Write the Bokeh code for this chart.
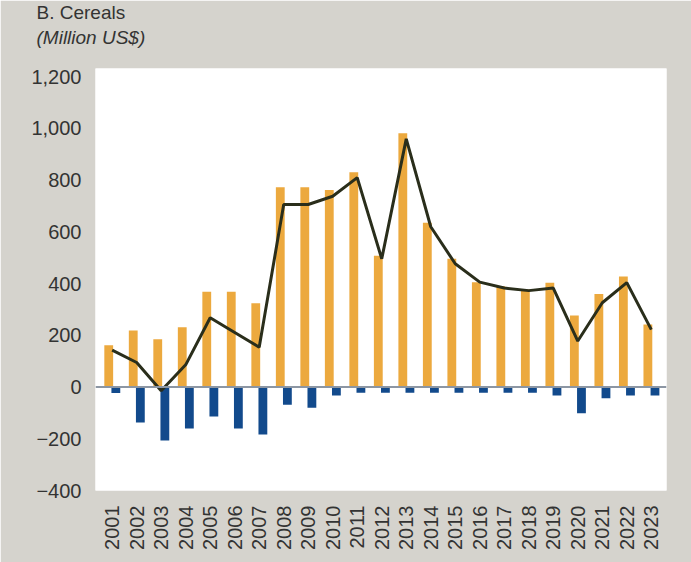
import math
from bokeh.plotting import figure
from bokeh.models import Title, Span, FixedTicker, CustomJSTickFormatter, Range1d
from bokeh.embed import file_html
from bokeh.resources import INLINE

years = ["2001", "2002", "2003", "2004", "2005", "2006", "2007", "2008", "2009", "2010", "2011", "2012",
         "2013", "2014", "2015", "2016", "2017", "2018", "2019", "2020", "2021", "2022", "2023"]
exports = [162, 219, 185, 231, 369, 369, 324, 773, 773, 762, 831, 508, 982, 635, 496, 405, 390, 377, 403, 277, 360, 428, 242]
imports = [-23, -137, -207, -160, -114, -160, -183, -68, -80, -33, -22, -22, -22, -22, -22, -22, -22, -22, -33, -101, -43, -33, -33]
net = [143, 95, -14, 86, 268, 211, 154, 706, 706, 738, 810, 496, 960, 620, 477, 406, 383, 373, 383, 178, 326, 404, 222]
y_ticks = [-400, -200, 0, 200, 400, 600, 800, 1000, 1200]

BG = "#d5d3cd"
ORANGE = "#eca93e"
BLUE = "#124a8c"
LINE = "#2a2e1b"
TXT = "#333333"
FONT = "Liberation Sans"

idx = list(range(len(years)))
x_exp = [i - 0.14 for i in idx]
x_imp = [i + 0.15 for i in idx]

p = figure(width=691, height=562, output_backend="svg", toolbar_location=None,
           x_range=Range1d(-0.68, 22.62), y_range=Range1d(-400, 1232),
           min_border_left=95, min_border_right=25, min_border_top=68, min_border_bottom=72)
p.background_fill_color = "white"
p.border_fill_color = BG
p.outline_line_color = None
p.grid.grid_line_color = None

p.title.text = "B. Cereals"
p.title.text_font = FONT
p.title.text_font_style = "normal"
p.title.text_font_size = "19px"
p.title.text_color = TXT
p.title.align = "left"
p.title.offset = -59
p.title.standoff = -36
p.add_layout(Title(text="(Million US$)", text_font=FONT, text_font_style="italic", text_font_size="19px",
                   text_color=TXT, align="left", offset=-59, standoff=41), "above")

p.vbar(x=x_exp, top=exports, bottom=0, width=0.36, fill_color=ORANGE, line_color=None)
p.vbar(x=x_imp, top=0, bottom=imports, width=0.36, fill_color=BLUE, line_color=None)
p.add_layout(Span(location=0, dimension="width", line_color="#8c96a3", line_width=2))
p.line(idx, net, line_color=LINE, line_width=3)

p.yaxis.ticker = FixedTicker(ticks=y_ticks)
p.yaxis.formatter = CustomJSTickFormatter(code="""
const s = Math.abs(tick).toString().replace(/\\B(?=(\\d{3})+(?!\\d))/g, ',');
return tick < 0 ? '\\u2212' + s : s;
""")
p.xaxis.ticker = FixedTicker(ticks=idx)
p.xaxis.major_label_overrides = {i: y for i, y in zip(idx, years)}
p.xaxis.major_label_orientation = math.pi / 2

for ax in (p.xaxis, p.yaxis):
    ax.axis_line_color = None
    ax.major_tick_line_color = None
    ax.minor_tick_line_color = None
    ax.major_tick_in = 0
    ax.major_tick_out = 0
    ax.major_label_text_font = FONT
    ax.major_label_text_font_size = "20px"
    ax.major_label_text_color = TXT
p.yaxis.major_label_standoff = 14
p.xaxis.major_label_standoff = 15

open("out.html", "w").write(file_html(p, INLINE))
